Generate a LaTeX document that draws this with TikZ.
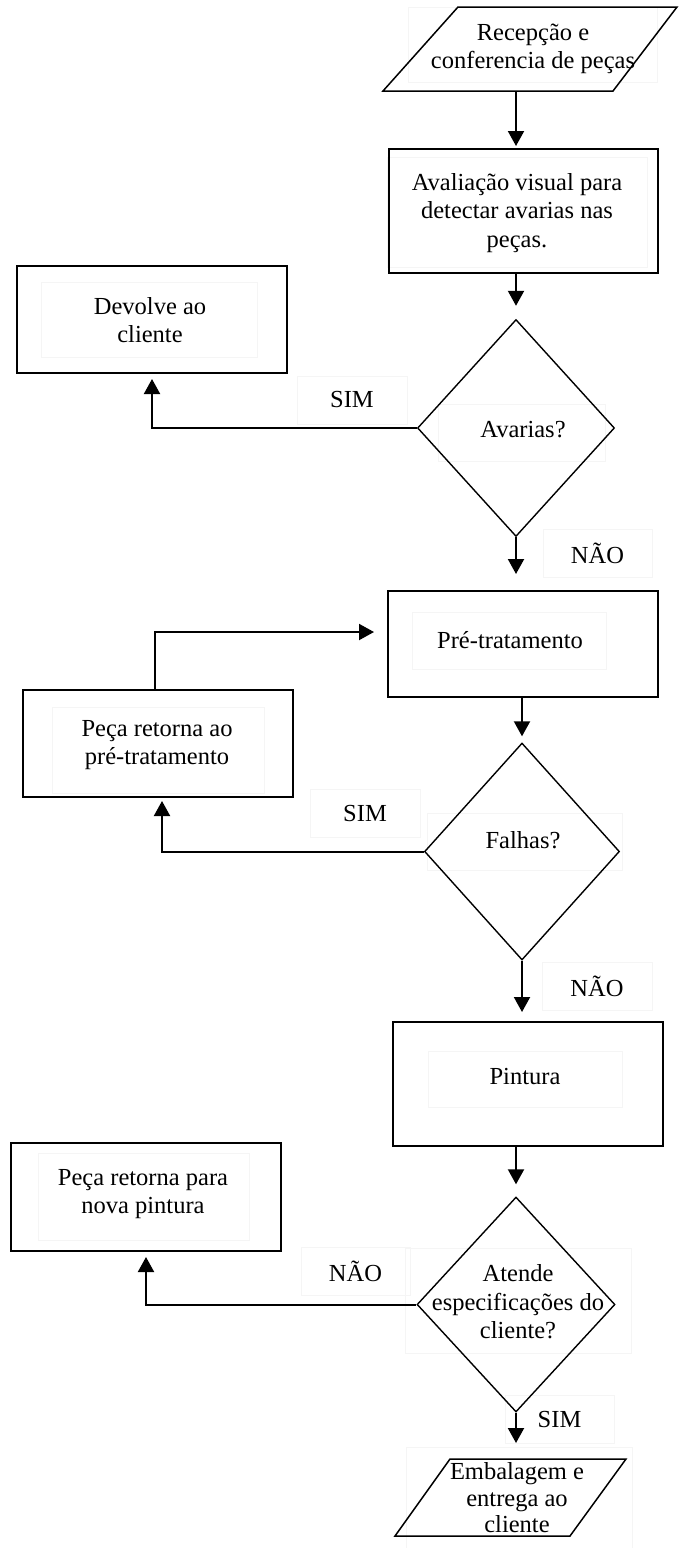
\documentclass[tikz,border=0pt]{standalone}
\usepackage{fontspec}
\setmainfont{Liberation Serif}
\usetikzlibrary{arrows.meta,shapes.geometric}

\begin{document}
\begin{tikzpicture}[x=1pt,y=-1pt,
  every node/.style={font=\fontsize{24.5}{28.5}\selectfont},
  box/.style={draw, line width=2pt, inner sep=0pt},
  io/.style={draw, line width=1.5pt, line join=miter},
  decision/.style={draw, diamond, line width=1.4pt, inner sep=0pt},
  txtframe/.style={draw=black!4, line width=1pt, inner sep=0pt},
  txt/.style={align=center, inner sep=0pt},
  arr/.style={line width=2pt, -{Triangle[width=16pt,length=15pt]}}
]
\useasboundingbox (0,0) rectangle (679,1548);

% faint text frames
\node[txtframe, minimum width=249, minimum height=75]  (fr-rec)  at (532.5,44.5) {};
\node[txtframe, minimum width=260, minimum height=110] (fr-aval) at (517,212) {};
\node[txtframe, minimum width=216, minimum height=75]  (fr-dev)  at (149,319.5) {};
\node[txtframe, minimum width=167, minimum height=57]  (fr-d1)   at (521.5,432.5) {};
\node[txtframe, minimum width=194, minimum height=57]  (fr-pre)  at (509,640.5) {};
\node[txtframe, minimum width=212, minimum height=86]  (fr-ret1) at (158,750) {};
\node[txtframe, minimum width=195, minimum height=57]  (fr-d2)   at (524.5,841.5) {};
\node[txtframe, minimum width=194, minimum height=56]  (fr-pint) at (525,1079) {};
\node[txtframe, minimum width=211, minimum height=87]  (fr-ret2) at (143.5,1196.5) {};
\node[txtframe, minimum width=226, minimum height=105] (fr-d3)   at (518,1300.5) {};
\node[txtframe, minimum width=226, minimum height=101] (fr-emb)  at (519,1497.5) {};

% branch labels
\node[txtframe, minimum width=110, minimum height=48] (sim1) at (352,400) {SIM};
\node[txtframe, minimum width=109, minimum height=48] (nao1) at (597.5,553) {NÃO};
\node[txtframe, minimum width=110, minimum height=48] (sim2) at (365,813.5) {SIM};
\node[txtframe, minimum width=110, minimum height=48] (nao2) at (597,986) {NÃO};
\node[txtframe, minimum width=109, minimum height=48] (nao3) at (355.5,1271.5) {NÃO};
\node[txtframe, minimum width=109, minimum height=48] (sim3) at (559.5,1419) {SIM};

% input / output parallelograms
\draw[io] (458,7) -- (677,7) -- (613,91) -- (383,91) -- cycle;
\coordinate (rec-b) at (498,91);
\draw[io] (450,1459) -- (626,1459) -- (570,1536) -- (395,1536) -- cycle;
\coordinate (emb-t) at (538,1459);

% process boxes
\node[box, minimum width=269, minimum height=124] (aval) at (523.5,211) {};
\node[box, minimum width=270, minimum height=107] (dev)  at (152,319.5) {};
\node[box, minimum width=270, minimum height=106] (pre)  at (523,644) {};
\node[box, minimum width=270, minimum height=107] (ret1) at (158,743.5) {};
\node[box, minimum width=270, minimum height=124] (pint) at (528,1084) {};
\node[box, minimum width=270, minimum height=108] (ret2) at (146,1197) {};

% decisions
\node[decision, minimum width=197, minimum height=217] (d1) at (516,428) {};
\node[decision, minimum width=195, minimum height=217] (d2) at (522,851.5) {};
\node[decision, minimum width=198, minimum height=215] (d3) at (516,1304.5) {};

% texts
\node[txt] (t-rec)  at (533,49)    {Recepção e\\conferencia de peças};
\node[txt] (t-aval) at (517,213)   {Avaliação visual para\\detectar avarias nas\\peças.};
\node[txt] (t-dev)  at (150,320)   {Devolve ao\\cliente};
\node[txt] (t-d1)   at (523,430)   {Avarias?};
\node[txt] (t-pre)  at (510,640)   {Pré-tratamento};
\node[txt] (t-ret1) at (157,745)   {Peça retorna ao\\pré-tratamento};
\node[txt] (t-d2)   at (523,840)   {Falhas?};
\node[txt] (t-pint) at (525,1076)  {Pintura};
\node[txt] (t-ret2) at (143,1194)  {Peça retorna para\\nova pintura};
\node[txt] (t-d3)   at (518,1302)  {Atende\\especificações do\\cliente?};
\node[txt, font=\fontsize{24.5}{26.5}\selectfont] (t-emb) at (517,1498) {Embalagem e\\entrega ao\\cliente};

% connectors
\draw[arr, shorten >=2pt]  (rec-b -| d1.north) -- (aval.north -| d1.north);
\draw[arr, shorten >=13pt] (aval.south -| d1.north) -- (d1.north);
\draw[arr, shorten >=5pt]  (d1.west) -| (dev.south);
\draw[arr, shorten >=16pt] (d1.south) -- (d1.south |- pre.north);
\draw[arr, shorten >=6pt]  (pre.south -| d2.north) -- (d2.north);
\draw[arr, shorten >=3pt]  (d2.west) -| ([xshift=4pt]ret1.south);
\draw[arr, shorten >=13pt] ([xshift=-3pt]ret1.north) |- ([yshift=12pt]pre.west);
\draw[arr, shorten >=9pt]  (d2.south) -- (d2.south |- pint.north);
\draw[arr, shorten >=12pt] (pint.south -| d3.north) -- (d3.north);
\draw[arr, shorten >=5pt]  (d3.west) -| (ret2.south);
\draw[arr, shorten >=16pt] (d3.south) -- (d3.south |- emb-t);
\end{tikzpicture}
\end{document}
